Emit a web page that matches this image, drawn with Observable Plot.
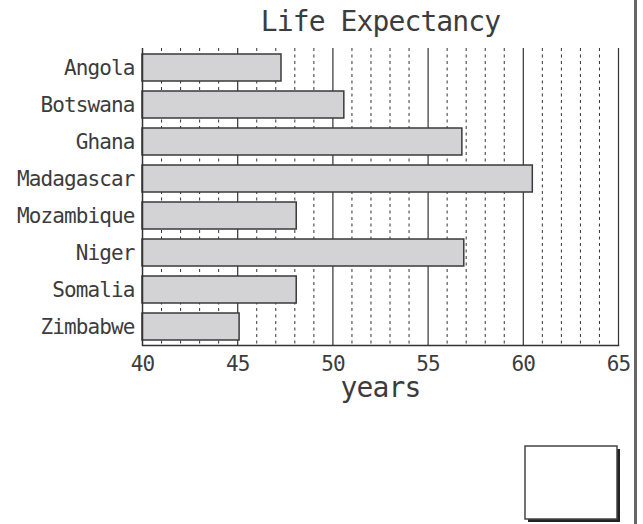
<!DOCTYPE html>
<html>
<head>
<meta charset="utf-8">
<script src="https://cdn.jsdelivr.net/npm/d3@7"></script>
<script src="https://cdn.jsdelivr.net/npm/@observablehq/plot@0.6"></script>
<style>
  html, body { margin: 0; padding: 0; background: #fff; }
  #chart { position: relative; width: 643px; height: 524px; }
</style>
</head>
<body>
<div id="chart"></div>
<script>
const countries = ["Angola", "Botswana", "Ghana", "Madagascar", "Mozambique", "Niger", "Somalia", "Zimbabwe"];
const lifeExpectancy = [47.3, 50.6, 56.8, 60.5, 48.1, 56.9, 48.1, 45.1];
const majorTicks = [40, 45, 50, 55, 60, 65];
const minorTicks = [41, 42, 43, 44, 46, 47, 48, 49, 51, 52, 53, 54, 56, 57, 58, 59, 61, 62, 63, 64];
const titleText = "Life Expectancy";
const xLabel = "years";

const data = countries.map((c, i) => ({country: c, value: lifeExpectancy[i]}));
const ink = "#333";
const textInk = "#3c3c3c";
const font = "'DejaVu Sans Mono', monospace";

const plot = Plot.plot({
  width: 643,
  height: 524,
  marginLeft: 142,
  marginRight: 25,
  marginTop: 48,
  marginBottom: 179,
  style: {fontFamily: font, fontSize: "21px", color: textInk, background: "#fff", letterSpacing: "-0.9px"},
  x: {domain: [40, 65], label: null},
  y: {domain: countries, paddingInner: 0.273, paddingOuter: 0.136, label: null},
  marks: [
    Plot.ruleX(minorTicks, {x: d => d, stroke: ink, strokeWidth: 1, strokeDasharray: "3,3.5"}),
    Plot.ruleX(majorTicks.slice(1), {x: d => d, stroke: ink, strokeWidth: 1.2}),
    Plot.barX(data, {y: "country", x1: 40, x2: "value", fill: "#d3d3d5", stroke: "#3a3a3a", strokeWidth: 1.5}),
    Plot.ruleX([40], {stroke: ink, strokeWidth: 1.5}),
    Plot.frame({anchor: "bottom", stroke: ink, strokeWidth: 1.5}),
    Plot.axisY({tickSize: 0, tickPadding: 8, label: null, fill: textInk, fontSize: 21}),
    Plot.axisX({ticks: majorTicks, tickSize: 0, tickPadding: 11, label: null, fill: textInk, fontSize: 21, tickFormat: d => String(d)}),
    Plot.text([titleText], {frameAnchor: "top", dy: -26, lineAnchor: "middle", fontSize: 28, fill: textInk}),
    Plot.text([xLabel], {frameAnchor: "bottom", dy: 43, lineAnchor: "middle", fontSize: 28, fill: textInk})
  ]
});

document.getElementById("chart").appendChild(plot);

// page decoration: right border and empty box at bottom right
const svg = d3.select(plot);
svg.append("rect").attr("x", 634).attr("y", 0).attr("width", 3).attr("height", 524).attr("fill", "#666");
svg.append("rect").attr("x", 528).attr("y", 449).attr("width", 92).attr("height", 73).attr("fill", "#222");
svg.append("rect").attr("x", 525).attr("y", 446).attr("width", 92).attr("height", 73)
  .attr("fill", "#fff").attr("stroke", "#444").attr("stroke-width", 1.5);
</script>
</body>
</html>
